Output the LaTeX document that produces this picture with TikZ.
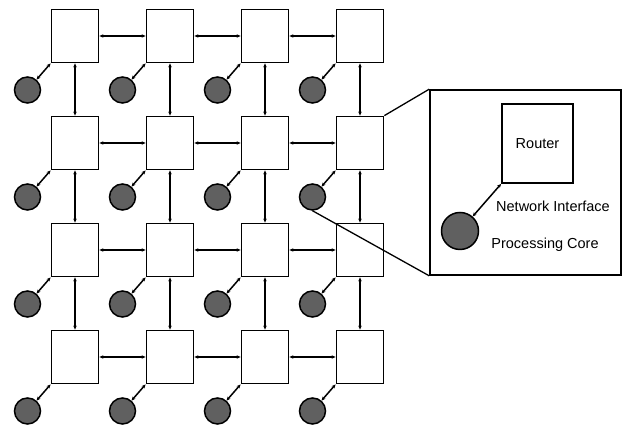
\documentclass[tikz,border=0pt]{standalone}
\usepackage{fontspec}
\setmainfont{Liberation Sans}
\usetikzlibrary{arrows.meta,calc,positioning}
\definecolor{coregray}{RGB}{96,96,96}
\tikzset{
  router/.style={draw,line width=1.8pt,minimum width=47pt,minimum height=53pt,inner sep=0pt},
  core/.style={circle,draw,line width=1.5pt,fill=coregray,minimum size=26pt,inner sep=0pt},
  link/.style={<->,line width=2pt},
  nilink/.style={<->,line width=1.5pt},
  label/.style={font=\fontsize{14.5}{16}\selectfont},
}
\begin{document}
\begin{tikzpicture}[x=1pt,y=1pt,>={Stealth[length=4pt,width=3.5pt]}]
  \useasboundingbox (0,0) rectangle (627,427);
  \matrix[anchor=center, column sep=46.2pt, row sep=52.2pt, inner sep=0pt] at (217.5,230.5)
  {
    \node[router](R_11){}; & \node[router](R_12){}; & \node[router](R_13){}; & \node[router](R_14){}; \\
    \node[router](R_21){}; & \node[router](R_22){}; & \node[router](R_23){}; & \node[router](R_24){}; \\
    \node[router](R_31){}; & \node[router](R_32){}; & \node[router](R_33){}; & \node[router](R_34){}; \\
    \node[router](R_41){}; & \node[router](R_42){}; & \node[router](R_43){}; & \node[router](R_44){}; \\
  };
  % cores
  \foreach \i in {1,...,4}
    \foreach \j in {1,...,4}
    {
      \node[core] (C_\i\j) at ($(R_\i\j)+(-47.5,-54)$) {};
      \draw[nilink] (C_\i\j) -- (R_\i\j.south west);
    }
  % mesh links
  \foreach \i in {1,...,4}
    \foreach \j/\k in {1/2,2/3,3/4}
    {
      \draw[link] (R_\i\j.east) -- (R_\i\k.west);
      \draw[link] (R_\j\i.south) -- (R_\k\i.north);
    }
  % zoomed tile
  \node[draw,line width=1.6pt,minimum width=191pt,minimum height=185pt,inner sep=0pt] (Z) at (525.5,244.5) {};
  \node[router,minimum width=71pt,minimum height=79pt,label] (ZR) at (537.5,283.5) {Router};
  \node[core,minimum size=37pt] (ZC) at (460,196) {};
  \draw[nilink] (ZC) -- (ZR.south west);
  \node[label] (NI) at (553,221) {Network Interface};
  \node[label] (PC) at (545,182) {Processing Core};
  \draw[line width=1.3pt] (R_24.north east) -- (Z.north west);
  \draw[line width=1.3pt] (C_24.south) -- (Z.south west);
\end{tikzpicture}
\end{document}
